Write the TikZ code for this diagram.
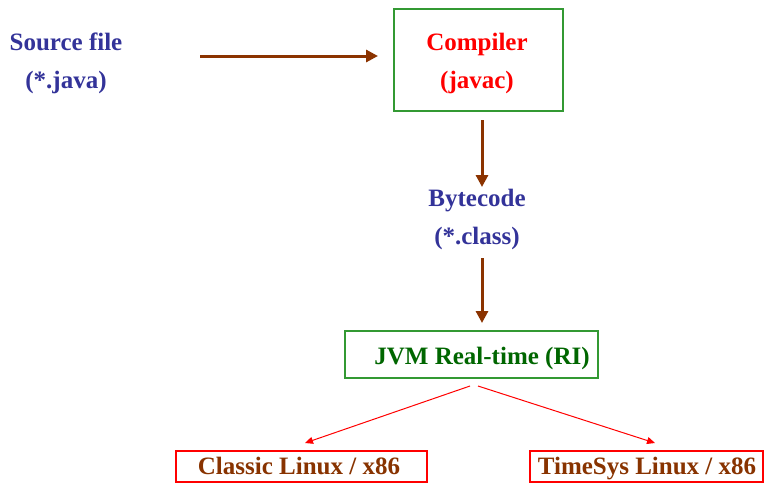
\documentclass[tikz,border=0pt]{standalone}
\usepackage{fontspec}
\setmainfont{Liberation Serif}
\usetikzlibrary{arrows.meta}
\definecolor{txtblue}{HTML}{333399}
\definecolor{boxgreen}{HTML}{339933}
\definecolor{jvmgreen}{HTML}{006600}
\definecolor{arrbrown}{HTML}{8B3300}
\definecolor{txtbrown}{HTML}{883300}
\tikzset{
  lbl/.style={font=\fontsize{25}{38}\selectfont\bfseries, align=center, inner sep=0pt},
  gbox/.style={draw=boxgreen, line width=1.5pt, inner sep=0pt},
  rbox/.style={draw=red, line width=1.3pt, inner sep=0pt},
  barrow/.style={draw=arrbrown, line width=3pt, -{Triangle[length=12pt,width=12pt]}},
  rarrow/.style={draw=red, line width=1pt, -{Triangle[length=8pt,width=7pt]}},
}
\begin{document}
\begin{tikzpicture}[x=1pt,y=-1pt]
\useasboundingbox (0,0) rectangle (764,483);
\node[lbl, txtblue] (src) at (66,63) {Source file\\(*.java)};
\node[gbox, minimum width=169pt, minimum height=102pt] (comp) at (478.5,60) {};
\node[lbl, red] (comptxt) at (477,63) {Compiler\\(javac)};
\node[lbl, txtblue] (byte) at (477,219) {Bytecode\\(*.class)};
\node[gbox, minimum width=253pt, minimum height=47pt] (jvm) at (471.5,354.5) {};
\node[lbl, jvmgreen, anchor=base] (jvmtxt) at (482,364) {JVM Real-time (RI)};
\node[rbox, minimum width=251pt, minimum height=31pt] (cl) at (301.5,466.5) {};
\node[lbl, txtbrown, anchor=base] (cltxt) at (299,474) {Classic Linux / x86};
\node[rbox, minimum width=233pt, minimum height=31pt] (ts) at (646.5,466.5) {};
\node[lbl, txtbrown, anchor=base] (tstxt) at (647,474) {TimeSys Linux / x86};
\coordinate (srcA) at (200,56);
\coordinate (srcB) at (378,56);
\draw[barrow] (srcA) -- (srcB);
\coordinate (c1) at (482,120);
\coordinate (c2) at (482,187);
\draw[barrow] (c1) -- (c2);
\coordinate (b1) at (482,258);
\coordinate (b2) at (482,323);
\draw[barrow] (b1) -- (b2);
\coordinate (j1) at (470,386);
\coordinate (j2) at (478,386);
\coordinate (l1) at (305,443);
\coordinate (r1) at (655,443);
\draw[rarrow] (j1) -- (l1);
\draw[rarrow] (j2) -- (r1);
\end{tikzpicture}
\end{document}
